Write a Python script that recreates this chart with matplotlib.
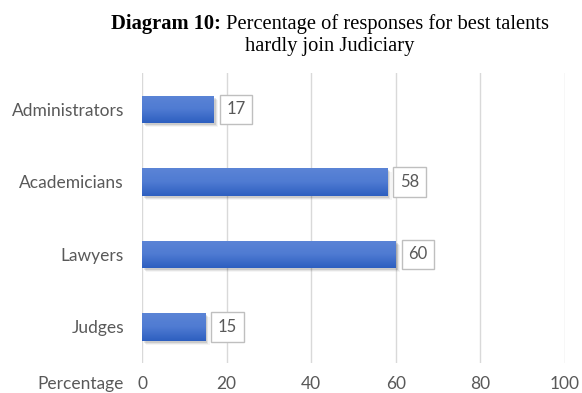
import numpy as np
import matplotlib
matplotlib.use("Agg")
import matplotlib.pyplot as plt
from matplotlib.colors import LinearSegmentedColormap
from matplotlib.patches import Rectangle

categories = ["Judges", "Lawyers", "Academicians", "Administrators"]
values = [15, 60, 58, 17]
x_ticks = [0, 20, 40, 60, 80, 100]

fig = plt.figure(figsize=(5.82, 3.93), dpi=100)
ax = fig.add_axes([0.244, 0.076, 0.727, 0.738])

label_font = "Lato"
grey = "#595959"
fs = 12.5

bar_h = 0.38
grad = LinearSegmentedColormap.from_list("bluegrad", ["#2d5fc0", "#4f7bd2", "#5b84d6"])
gradient = np.linspace(0, 1, 64).reshape(-1, 1)

for i, v in enumerate(values):
    # soft drop shadow
    for k, a in enumerate([0.10, 0.07, 0.04]):
        ax.add_patch(Rectangle((0.4 + 0.3 * k, i - bar_h / 2 - 0.03 - 0.015 * k), v, bar_h,
                               facecolor="black", alpha=a, edgecolor="none", zorder=2))
    bar = ax.barh(i, v, height=bar_h, color="#3d6cc8", zorder=3)[0]
    im = ax.imshow(gradient, cmap=grad, aspect="auto",
                   extent=[0, v, i - bar_h / 2, i + bar_h / 2], origin="lower", zorder=4)
    im.set_clip_path(bar)
    ax.annotate(str(v), xy=(v, i), xytext=(16, 0), textcoords="offset points",
                ha="center", va="center", fontsize=12, color=grey, family=label_font,
                bbox=dict(boxstyle="square,pad=0.4", facecolor="white",
                          edgecolor="#bfbfbf", linewidth=1.0), zorder=5)

ax.set_xlim(0, 100)
ax.set_ylim(-0.5, 3.5)
ax.set_xticks(x_ticks)
ax.set_xticklabels([str(t) for t in x_ticks])
ax.set_yticks(range(len(categories)))
ax.set_yticklabels(categories)
ax.grid(axis="x", color="#d9d9d9", linewidth=1.0, zorder=0)
ax.set_axisbelow(True)
for s in ax.spines.values():
    s.set_visible(False)
ax.tick_params(axis="both", length=0, colors=grey, labelsize=fs)
ax.tick_params(axis="x", pad=9)
ax.tick_params(axis="y", pad=13)
for lab in ax.get_xticklabels() + ax.get_yticklabels():
    lab.set_family(label_font)
    lab.set_color(grey)

fig.canvas.draw()
tick0 = ax.get_xticklabels()[0].get_window_extent()
fig.text(0.213, tick0.y0 / fig.bbox.height, "Percentage", ha="right", va="bottom",
         fontsize=fs, color=grey, family=label_font)

# Title: bold lead-in followed by regular text, centred as one line
tfs = 14.8
cx = 330 / 582
y1, y2 = 1 - 24 / 393, 1 - 46 / 393
bold = fig.text(0, y1, "Diagram 10:", ha="left", va="center", fontsize=tfs,
                family="Liberation Serif", weight="bold", color="black")
rest = fig.text(0, y1, " Percentage of responses for best talents", ha="left",
                va="center", fontsize=tfs, family="Liberation Serif", color="black")
r = fig.canvas.get_renderer()
wb = bold.get_window_extent(r).width / fig.bbox.width
wr = rest.get_window_extent(r).width / fig.bbox.width
x0 = cx - (wb + wr) / 2
bold.set_x(x0)
rest.set_x(x0 + wb)
fig.text(cx, y2, "hardly join Judiciary", ha="center", va="center",
         fontsize=tfs, family="Liberation Serif", color="black")

fig.savefig("out.png", dpi=100)
